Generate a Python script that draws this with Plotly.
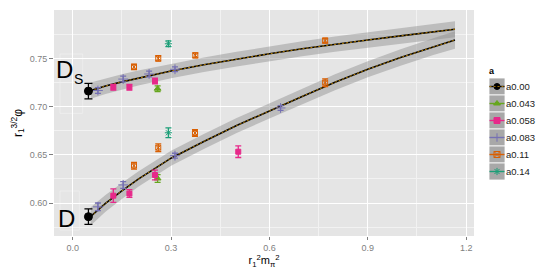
import plotly.graph_objects as go

# ---------------- data ----------------
series_names = ["a0.00", "a0.043", "a0.058", "a0.083", "a0.11", "a0.14"]
series_colors = ["#000000", "#66A61E", "#E7298A", "#7570B3", "#D95F02", "#1B9E77"]
series_symbols = ["circle", "triangle-up", "square", "cross-thin-open", "square-x-open", "asterisk-open"]
series_sizes = [8, 6, 5, 7, 5, 6]

x_a000 = [0.048, 0.048]
y_a000 = [0.5858, 0.7163]
e_a000 = [0.008, 0.008]

x_a043 = [0.259, 0.259]
y_a043 = [0.6255, 0.7188]
e_a043 = [0.004, 0.003]

x_a058 = [0.124, 0.173, 0.251, 0.505, 0.124, 0.173, 0.251]
y_a058 = [0.6076, 0.6098, 0.6291, 0.6533, 0.7204, 0.7204, 0.7268]
e_a058 = [0.007, 0.004, 0.005, 0.006, 0.003, 0.003, 0.003]

x_a083 = [0.077, 0.154, 0.312, 0.634, 0.077, 0.154, 0.233, 0.312]
y_a083 = [0.5960, 0.6188, 0.6492, 0.6988, 0.7169, 0.7288, 0.7341, 0.7390]
e_a083 = [0.004, 0.0035, 0.0025, 0.0025, 0.003, 0.003, 0.003, 0.0025]

x_a011 = [0.187, 0.261, 0.373, 0.770, 0.187, 0.261, 0.374, 0.770]
y_a011 = [0.6388, 0.6575, 0.6728, 0.7251, 0.7415, 0.7503, 0.7535, 0.7688]
e_a011 = [0.0035, 0.004, 0.0035, 0.004, 0.0028, 0.0028, 0.0026, 0.0025]

x_a014 = [0.292, 0.292]
y_a014 = [0.6730, 0.7655]
e_a014 = [0.005, 0.003]

# fitted curves with band half-widths
fit_x = [0.055, 0.1, 0.15, 0.2, 0.3, 0.4, 0.5, 0.6, 0.7, 0.8, 0.9, 1.0, 1.1, 1.166]
fit_D = [0.5860, 0.5996, 0.6125, 0.6248, 0.6466, 0.6640, 0.6805, 0.6958, 0.7108, 0.7255, 0.7390, 0.7512, 0.7625, 0.7694]
band_D = [0.0095, 0.0088, 0.0083, 0.0080, 0.0078, 0.0078, 0.0078, 0.0079, 0.0080, 0.0082, 0.0084, 0.0086, 0.0088, 0.0090]
fit_Ds = [0.7168, 0.7215, 0.7259, 0.7299, 0.7372, 0.7437, 0.7496, 0.7551, 0.7603, 0.7651, 0.7694, 0.7737, 0.7778, 0.7806]
band_Ds = [0.0085, 0.0082, 0.0080, 0.0078, 0.0076, 0.0076, 0.0076, 0.0077, 0.0078, 0.0079, 0.0080, 0.0081, 0.0082, 0.0083]

x_ticks = [0.0, 0.3, 0.6, 0.9, 1.2]
x_ticklabels = ["0.0", "0.3", "0.6", "0.9", "1.2"]
y_ticks = [0.60, 0.65, 0.70, 0.75]
y_ticklabels = ["0.60", "0.65", "0.70", "0.75"]

all_x = [x_a000, x_a043, x_a058, x_a083, x_a011, x_a014]
all_y = [y_a000, y_a043, y_a058, y_a083, y_a011, y_a014]
all_e = [e_a000, e_a043, e_a058, e_a083, e_a011, e_a014]

FONT = "Liberation Sans, Arial, Helvetica, sans-serif"
fig = go.Figure()

# ribbons
for fit, band in [(fit_D, band_D), (fit_Ds, band_Ds)]:
    hi = [f + b for f, b in zip(fit, band)]
    lo = [f - b for f, b in zip(fit, band)]
    fig.add_trace(go.Scatter(x=fit_x + fit_x[::-1], y=hi + lo[::-1], fill="toself",
                             fillcolor="rgba(140,140,140,0.45)", line=dict(width=0),
                             mode="lines", hoverinfo="skip", showlegend=False))
# fit lines
for fit in [fit_D, fit_Ds]:
    fig.add_trace(go.Scatter(x=fit_x, y=fit, mode="lines", line=dict(color="black", width=1.6),
                             showlegend=False, hoverinfo="skip"))
    fig.add_trace(go.Scatter(x=fit_x, y=fit, mode="lines",
                             line=dict(color="#E69F00", width=0.8, dash="2px,2px"),
                             showlegend=False, hoverinfo="skip"))

# data points
for i, name in enumerate(series_names):
    col = series_colors[i]
    big = (i == 0)
    fig.add_trace(go.Scatter(
        x=all_x[i], y=all_y[i], mode="markers", name=name, showlegend=False,
        marker=dict(symbol=series_symbols[i], color=col, size=series_sizes[i],
                    line=dict(color=col, width=1)),
        error_y=dict(type="data", array=all_e[i], color=col, thickness=1.3,
                     width=4 if big else 3)))

# ---------- manual legend on pixel-mapped helper axes ----------
leg_top = 78
leg_step = 17
key_x0, key_x1 = 489, 505
shapes = []
annotations = []
for i, name in enumerate(series_names):
    y0 = leg_top + i * leg_step
    yc = y0 + leg_step / 2
    shapes.append(dict(type="rect", xref="x2", yref="y2", x0=key_x0, x1=key_x1, y0=y0, y1=y0 + leg_step,
                       fillcolor="#A8A8A8", line=dict(color="white", width=0.8), layer="below"))
    shapes.append(dict(type="line", xref="x2", yref="y2", x0=key_x0 + 0.5, x1=key_x1 - 0.5, y0=yc, y1=yc,
                       line=dict(color=series_colors[i], width=1.4), layer="above"))
    if i == 0:
        shapes.append(dict(type="line", xref="x2", yref="y2", x0=key_x0 + 0.5, x1=key_x1 - 0.5, y0=yc, y1=yc,
                           line=dict(color="#E69F00", width=0.7, dash="2px,2px"), layer="above"))
    fig.add_trace(go.Scatter(
        x=[(key_x0 + key_x1) / 2], y=[yc], xaxis="x2", yaxis="y2", mode="markers",
        showlegend=False, hoverinfo="skip",
        marker=dict(symbol=series_symbols[i], color=series_colors[i], size=6,
                    line=dict(color=series_colors[i], width=1))))
    annotations.append(dict(xref="x2", yref="y2", x=key_x1 + 0.5, y=yc, text=name, showarrow=False,
                            xanchor="left", yanchor="middle", borderpad=0, borderwidth=0,
                            font=dict(size=9.5, color="#1a1a1a", family="Liberation Sans")))
annotations.append(dict(xref="x2", yref="y2", x=key_x0 - 1, y=70.5, text="<b>a</b>", showarrow=False,
                        xanchor="left", yanchor="middle", borderpad=0,
                        font=dict(size=9, color="black", family="Liberation Sans")))

# panel background
shapes.insert(0, dict(type="rect", xref="x domain", yref="y domain", x0=0, x1=1, y0=0, y1=1,
                      fillcolor="#E5E5E5", line=dict(width=0), layer="below"))
# faint label boxes
shapes.append(dict(type="rect", xref="x", yref="y", x0=-0.0387, x1=0.0305, y0=0.6932, y1=0.7549,
                   line=dict(color="rgba(255,255,255,0.4)", width=0.8), layer="below"))
shapes.append(dict(type="rect", xref="x", yref="y", x0=-0.0387, x1=0.0201, y0=0.5719, y1=0.6125,
                   line=dict(color="rgba(255,255,255,0.4)", width=0.8), layer="below"))

# D labels
annotations.append(dict(x=-0.025, y=0.7383, text="D", showarrow=False, xanchor="center", yanchor="middle",
                        font=dict(size=24, color="black", family=FONT)))
annotations.append(dict(x=0.0175, y=0.7287, text="S", showarrow=False, xanchor="center", yanchor="middle",
                        font=dict(size=14, color="black", family=FONT)))
annotations.append(dict(x=-0.0204, y=0.5839, text="D", showarrow=False, xanchor="center", yanchor="middle",
                        font=dict(size=24, color="black", family=FONT)))

fig.update_layout(
    width=537, height=268,
    margin=dict(l=46, r=0, t=2, b=40),
    paper_bgcolor="white", plot_bgcolor="rgba(0,0,0,0)",
    font=dict(family=FONT),
    showlegend=False,
    shapes=shapes, annotations=annotations,
    xaxis=dict(domain=[0, 420 / 491], range=[-0.057, 1.224], tickmode="array",
               tickvals=x_ticks, ticktext=x_ticklabels, showgrid=True, gridcolor="white",
               gridwidth=1.1, zeroline=False, showline=False, ticks="outside", ticklen=3,
               tickcolor="#7F7F7F", tickfont=dict(size=9, color="#7F7F7F"),
               minor=dict(tickvals=[0.15, 0.45, 0.75, 1.05], showgrid=True,
                          gridcolor="#F2F2F2", gridwidth=0.6, ticks=""),
               title=dict(text="r<sub>1</sub><sup>2</sup>m<sub>π</sub><sup>2</sup>", standoff=2,
                          font=dict(size=11, color="black"))),
    yaxis=dict(range=[0.5657, 0.8006], tickmode="array", tickvals=y_ticks, ticktext=y_ticklabels,
               showgrid=True, gridcolor="white", gridwidth=1.1, zeroline=False, showline=False,
               ticks="outside", ticklen=4, tickcolor="#7F7F7F",
               tickfont=dict(size=9, color="#7F7F7F"),
               minor=dict(tickvals=[0.575, 0.625, 0.675, 0.725, 0.775], showgrid=True,
                          gridcolor="#F2F2F2", gridwidth=0.6, ticks=""),
               title=dict(text="r<sub>1</sub><sup>3/2</sup>φ", standoff=4,
                          font=dict(size=12, color="black"))),
    xaxis2=dict(domain=[420 / 491, 1], range=[474, 545], anchor="y2", visible=False, fixedrange=True),
    yaxis2=dict(domain=[0, 1], range=[236, 10], anchor="x2", visible=False, fixedrange=True),
)

fig.write_html("out.html")
